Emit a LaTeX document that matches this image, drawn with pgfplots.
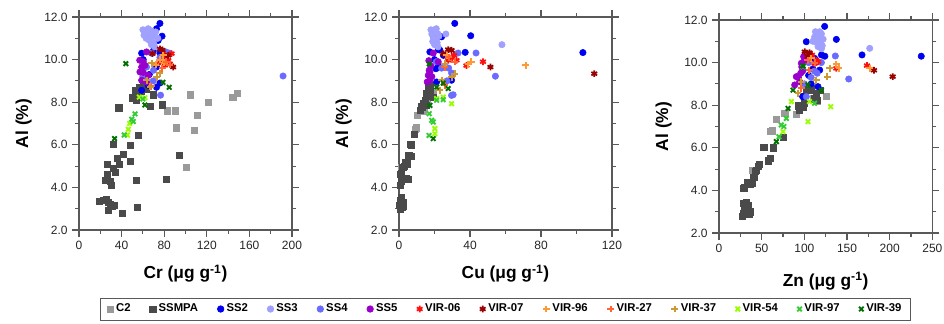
\documentclass[border=0pt]{standalone}
\usepackage{pgfplots}
\pgfplotsset{compat=1.18}
\usepackage{fontspec}
\setmainfont{Liberation Sans}
\definecolor{cCtwo}{HTML}{9A9A9A}
\definecolor{cSSMPA}{HTML}{4A4A4A}
\definecolor{cSStwo}{HTML}{0000F0}
\definecolor{cSSthree}{HTML}{A0A0FF}
\definecolor{cSSfour}{HTML}{6B6BFF}
\definecolor{cSSfive}{HTML}{9900CC}
\definecolor{cVzsix}{HTML}{FF1010}
\definecolor{cVzseven}{HTML}{990000}
\definecolor{cVnsix}{HTML}{FF9933}
\definecolor{cVtseven}{HTML}{FF6633}
\definecolor{cVthseven}{HTML}{CC9933}
\definecolor{cVffour}{HTML}{99FF00}
\definecolor{cVnseven}{HTML}{33CC33}
\definecolor{cVthnine}{HTML}{007000}
\pgfplotsset{
  sCtwo/.style={only marks, mark=square*, mark size=2.3pt, color=cCtwo},
  sSSMPA/.style={only marks, mark=square*, mark size=2.3pt, color=cSSMPA},
  sSStwo/.style={only marks, mark=*, mark size=2.4pt, color=cSStwo},
  sSSthree/.style={only marks, mark=*, mark size=2.4pt, color=cSSthree},
  sSSfour/.style={only marks, mark=*, mark size=2.4pt, color=cSSfour},
  sSSfive/.style={only marks, mark=*, mark size=2.4pt, color=cSSfive},
  sVzsix/.style={only marks, mark=asterisk, mark size=2.5pt, color=cVzsix, mark options={line width=1.3pt}},
  sVzseven/.style={only marks, mark=asterisk, mark size=2.5pt, color=cVzseven, mark options={line width=1.3pt}},
  sVnsix/.style={only marks, mark=+, mark size=2.6pt, color=cVnsix, mark options={line width=1.5pt}},
  sVtseven/.style={only marks, mark=+, mark size=2.6pt, color=cVtseven, mark options={line width=1.5pt}},
  sVthseven/.style={only marks, mark=+, mark size=2.6pt, color=cVthseven, mark options={line width=1.5pt}},
  sVffour/.style={only marks, mark=x, mark size=2.4pt, color=cVffour, mark options={line width=1.4pt}},
  sVnseven/.style={only marks, mark=x, mark size=2.4pt, color=cVnseven, mark options={line width=1.4pt}},
  sVthnine/.style={only marks, mark=x, mark size=2.4pt, color=cVthnine, mark options={line width=1.4pt}},
  myaxis/.style={
    anchor=north west, scale only axis, width=159.75pt, height=159.75pt,
    ymin=2, ymax=12, ytick={2,4,...,12},
    tick align=outside, major tick length=5pt, minor tick length=3pt,
    minor x tick num=1, minor y tick num=1,
    axis line style={black!65, line width=0.8pt},
    every tick/.style={black!65, line width=0.8pt},
    yticklabel style={/pgf/number format/.cd, fixed, fixed zerofill, precision=1},
    /pgf/number format/assume math mode=true,
    tick label style={font=\fontsize{9}{10}\selectfont, text=black!85},
    label style={font=\bfseries\fontsize{13}{15}\selectfont},
    ylabel={Al (\%)},
    ylabel style={at={(axis description cs:-0.26,0.5)}, anchor=center},
    xlabel style={at={(axis description cs:0.5,-0.205)}, anchor=center},
    clip=false,
  },
}
\begin{document}
\begin{tikzpicture}
\path[use as bounding box] (0,0) rectangle (708pt,-243pt);
% ---------- Panel 1: Cr ----------
\begin{axis}[myaxis, at={(59.25pt,-12.75pt)}, xmin=0, xmax=200, xtick={0,40,...,200},
  xlabel={Cr (μg g\textsuperscript{-1})},
  legend columns=14,
  legend entries={C2,SSMPA,SS2,SS3,SS4,SS5,VIR-06,VIR-07,VIR-96,VIR-27,VIR-37,VIR-54,VIR-97,VIR-39},
  legend image code/.code={\draw[#1] plot coordinates {(0.09cm,0cm)};},
  legend style={at={(2.0035,-0.371)}, anchor=center, draw=black!65, line width=0.6pt,
    font=\bfseries\fontsize{8.5}{10}\selectfont, inner ysep=2.5pt, inner xsep=5pt,
    /tikz/every even column/.append style={column sep=12.5pt}},
]
\addplot[sCtwo] coordinates {(83,7.6) (90,7.6) (91,6.8) (104.7,8.35) (121,8.0) (111,7.37) (108.6,6.69) (100.5,4.94) (144.4,8.24) (148.4,8.40)};
\addplot[sSSMPA] coordinates {(18.8,3.36) (22.8,3.39) (25.3,3.42) (27.5,3.31) (29,3.2) (33.4,3.17) (27.5,2.92) (31.5,3.11) (41,2.77) (54.4,3.06) (54,4.32) (26.3,5.08) (26.6,4.61) (25,4.35) (29,4.3) (30,4.08) (32.5,4.91) (33.8,4.7) (37.8,5.08) (36,5.36) (41.9,5.57) (48.4,5.24) (47.8,5.99) (32.5,6.02) (56,6.46) (37.4,7.74) (50,8.21) (52.5,8.56) (54,8.09) (57,8.71) (60.3,8.79) (63.4,8.63) (69.7,8.35) (67.2,7.8) (77.8,7.88) (81.9,4.38) (94.4,5.5) (55,8.4) (58,8.5) (62,8.75)};
\addplot[sSStwo] coordinates {(76,11.7) (78,11.1) (74.4,10.9) (72.8,11.45) (58.8,10.3) (60.3,10.0) (69.7,10.4) (76,10.3) (72.8,8.7) (76,8.9) (58.8,8.56) (65,8.79) (72.8,9.65) (80.8,10.06) (66,9.3)};
\addplot[sSSthree] coordinates {(60,11.4) (62,11.3) (64,11.4) (66,11.2) (68,11.35) (70,11.1) (63,11.0) (66,10.9) (70,10.8) (72,11.3) (74,11.0) (68,10.7) (61,11.15) (65,11.45) (71,10.6) (67,11.05)};
\addplot[sSSfour] coordinates {(191.6,9.23) (76.6,8.33) (68,10.3) (76,10.1) (63.4,9.65) (69.7,9.0) (82,10.35) (85,10.3) (70,9.5) (60,9.2)};
\addplot[sSSfive] coordinates {(57,9.97) (60.3,9.9) (63.4,10.36) (60.3,9.4) (57.2,9.42) (58.8,9.03) (63.4,8.95) (65,9.26) (61.9,9.73) (58.8,9.65)};
\addplot[sVzsix] coordinates {(76,9.9) (80.6,10.2) (83.8,9.97) (86.9,10.28) (80.6,9.73) (85.3,9.8)};
\addplot[sVzseven] coordinates {(69,10.28) (76,10.5) (78.4,10.45) (83.8,10.2) (88.4,9.65)};
\addplot[sVnsix] coordinates {(79,10.2) (72,9.75) (76,10.0) (80,9.85)};
\addplot[sVtseven] coordinates {(68,8.75) (82,9.9) (85,9.75) (78,9.6)};
\addplot[sVthseven] coordinates {(68.3,9.83) (76,9.36) (63.5,9.04) (66.7,8.73) (72.8,9.18)};
\addplot[sVffour] coordinates {(56.6,8.24) (61.9,8.21) (46.3,6.73) (45.6,6.46) (47.5,7.0)};
\addplot[sVnseven] coordinates {(52.6,7.45) (49.5,7.2) (51,7.09) (42.5,6.46) (60,8.15)};
\addplot[sVthnine] coordinates {(44,9.81) (78.8,8.93) (84.7,8.7) (33.4,6.29) (61.9,7.87)};
\end{axis}
% ---------- Panel 2: Cu ----------
\begin{axis}[myaxis, at={(299.25pt,-12.75pt)}, xmin=0, xmax=120, xtick={0,40,...,120},
  xlabel={Cu (μg g\textsuperscript{-1})}]
\addplot[sCtwo] coordinates {(10.3,7.4) (9.0,6.73) (9.5,6.8) (13.5,7.6) (14,7.65) (1.2,4.94) (17,8.35) (16,8.0) (18,8.24) (19,8.4)};
\addplot[sSSMPA] coordinates {(0.6,3.4) (1.5,3.31) (0.2,3.16) (0.9,3.0) (1.5,3.55) (2.2,3.3) (1.0,3.2) (0.5,4.1) (1.5,4.64) (2.4,4.96) (3.4,5.19) (4.7,5.11) (3.9,4.41) (5.2,4.38) (0.8,4.6) (5.5,5.5) (6.6,5.45) (6.2,6.02) (7.0,6.0) (8.4,6.49) (11.8,7.62) (13,7.77) (13.7,7.93) (14.6,8.09) (15.5,8.4) (16.5,8.68) (17.4,8.79) (19.3,8.24) (15.5,7.85) (17.4,8.48) (16.5,8.6) (2.5,3.1) (1.8,3.05) (1.2,4.3) (2.0,4.95) (3.0,5.0) (12.5,7.8) (17,8.3)};
\addplot[sSStwo] coordinates {(31.4,11.7) (40.4,11.12) (103.6,10.33) (37.3,10.34) (17.4,10.36) (22.1,10.47) (19.3,11.14) (24,11.07) (20.8,9.57) (21.2,8.95) (29.6,9.03) (23,10.45) (20,10.0) (22,9.8) (25,10.2)};
\addplot[sSSthree] coordinates {(18,11.4) (19,11.3) (20,11.4) (21,11.3) (22,11.2) (19.5,11.0) (20.5,10.9) (21.5,10.8) (22.5,11.1) (18.5,11.2) (20,10.7) (21,11.45) (22,10.6) (26.4,11.2) (58,10.7) (19,10.85)};
\addplot[sSSfour] coordinates {(43.4,10.31) (54.3,9.22) (33.3,10.31) (29.6,8.32) (30.5,8.35) (29.6,9.37) (24,9.6) (21,9.9) (27,9.0) (28,9.6)};
\addplot[sSSfive] coordinates {(19.3,10.3) (22.1,9.9) (17.4,9.42) (16.5,9.26) (17.4,9.03) (15.9,8.95) (18,9.7) (16.8,9.95) (18.5,9.2) (17,9.5)};
\addplot[sVzsix] coordinates {(32.4,9.97) (47.3,9.9) (38,9.72) (27.7,9.97) (30,10.1) (31,10.2)};
\addplot[sVzseven] coordinates {(27.7,10.47) (29.6,10.44) (51.5,9.65) (110,9.34) (24.9,10.28)};
\addplot[sVnsix] coordinates {(40.8,9.89) (71.3,9.73) (39,9.78) (26.8,10.2)};
\addplot[sVtseven] coordinates {(31.5,9.9) (25.8,9.65) (25.8,8.79) (28,10.1)};
\addplot[sVthseven] coordinates {(31.5,9.34) (29.6,9.18) (25.8,9.8) (24,9.03) (23,8.56)};
\addplot[sVffour] coordinates {(24.9,8.24) (21.2,8.17) (29.6,7.93) (20.2,6.76) (20.2,6.52)};
\addplot[sVnseven] coordinates {(17,7.46) (18.4,7.15) (16.9,6.44) (21.2,8.09) (24.9,8.12) (19.3,7.07)};
\addplot[sVthnine] coordinates {(17,9.8) (24.9,8.9) (27.7,8.64) (21.2,8.71) (19.3,6.29) (17.4,7.85)};
\end{axis}
% ---------- Panel 3: Zn ----------
\begin{axis}[myaxis, at={(539.25pt,-15pt)}, width=160pt, xmin=0, xmax=250, xtick={0,50,...,250},
  xlabel={Zn (μg g\textsuperscript{-1})},
  xlabel style={at={(axis description cs:0.5,-0.225)}, anchor=center}]
\addplot[sCtwo] coordinates {(38.7,4.93) (60.2,6.76) (62,6.8) (66.8,7.35) (77,7.62) (90.6,7.57) (125.8,8.4) (110,8.3) (115,8.2) (95,7.95)};
\addplot[sSSMPA] coordinates {(28.5,3.39) (31.3,3.27) (34,3.31) (29,2.92) (34.8,2.89) (27,2.77) (30,3.1) (36,3.0) (32,3.45) (29,4.1) (32.8,4.36) (38.7,4.36) (40.7,4.6) (42.6,4.88) (45.7,5.15) (47.3,5.24) (58.2,5.39) (60.2,5.5) (52.4,6.02) (63.3,6.0) (75.8,6.49) (93.4,8.0) (92.6,7.96) (94.5,7.77) (99.2,7.9) (100.4,8.4) (102.3,8.7) (108,8.8) (112,8.3) (114,8.55) (118.8,8.7) (106,8.7) (115,8.25) (36,4.3) (44,4.95) (30,4.15) (100,8.1)};
\addplot[sSStwo] coordinates {(123.8,11.7) (137.5,11.09) (237,10.3) (167.6,10.36) (120,10.36) (118,9.65) (116,8.87) (102.3,10.98) (110,9.7) (105,9.4) (114,10.1) (98,8.4) (112,10.2) (124,10.3) (108,9.0)};
\addplot[sSSthree] coordinates {(113,11.45) (116,11.4) (118,11.3) (120,11.35) (115,11.1) (117,11.0) (119,10.9) (121,10.8) (112,11.2) (114,10.95) (120,10.65) (122,11.1) (118,11.45) (116,10.75) (176.6,10.67) (110,11.0)};
\addplot[sSSfour] coordinates {(136.3,10.31) (152,9.23) (102.3,8.4) (112,9.6) (105,10.0) (108,9.3) (115,9.5) (98,9.7) (100,9.0) (120,10.0)};
\addplot[sSSfive] coordinates {(99.2,10.28) (96.5,9.97) (95.7,9.5) (90.6,9.34) (88.7,8.95) (94.5,9.1) (97,9.8) (100,10.1) (93,9.3) (98,9.6)};
\addplot[sVzsix] coordinates {(173.4,9.86) (137.5,9.73) (116,10.04) (109,10.36) (114,10.1) (112,9.95)};
\addplot[sVzseven] coordinates {(106,10.47) (100.4,10.51) (181.6,9.64) (203.5,9.34) (104,10.3)};
\addplot[sVnsix] coordinates {(137.5,9.93) (140.6,9.73) (108,10.2) (176.6,9.73)};
\addplot[sVtseven] coordinates {(96.5,8.79) (106,9.65) (112,10.0) (104,10.1)};
\addplot[sVthseven] coordinates {(129.7,9.73) (126.6,9.34) (114,9.18) (96.5,9.1) (92.6,8.56)};
\addplot[sVffour] coordinates {(104.3,7.23) (130.9,7.93) (84.8,8.17) (106,8.17) (75,6.76)};
\addplot[sVnseven] coordinates {(70.3,6.52) (73,7.07) (78.9,7.38) (112,8.09) (98.4,9.8) (76,7.0)};
\addplot[sVthnine] coordinates {(67.2,6.29) (80.9,7.85) (86.7,8.71) (104.3,8.95) (120,8.7) (98.4,9.84)};
\end{axis}
\end{tikzpicture}
\end{document}
